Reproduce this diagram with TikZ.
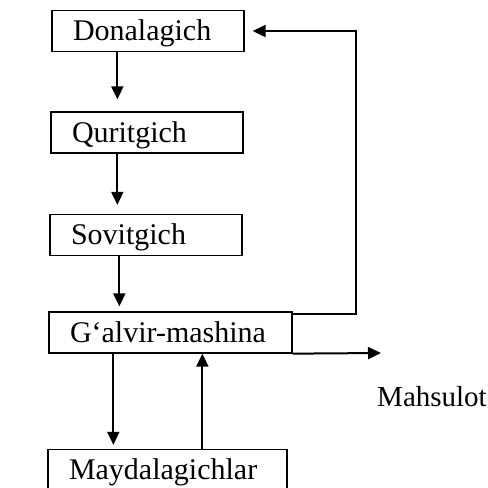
\documentclass[tikz,border=0pt]{standalone}
\usepackage{fontspec}
\setmainfont{Liberation Serif}
\usetikzlibrary{arrows.meta}
\tikzset{
  box/.style={draw, line width=1.3pt, minimum height=41pt, inner xsep=21pt, inner ysep=0pt,
    align=left, text height=19pt, text depth=0pt, font=\fontsize{30}{36}\selectfont},
  flow/.style={line width=2pt, -{Triangle[length=13pt,width=12pt]}}
}
\begin{document}
\begin{tikzpicture}[x=1pt,y=-1pt]
\useasboundingbox (0,0) rectangle (488,488);
\node[box, text width=150pt] (don) at (148,31) {Donalagich};
\node[box, text width=150pt] (qur) at (147,132.5) {Quritgich};
\node[box, text width=150pt] (sov) at (146,235) {Sovitgich};
\node[box, text width=201pt] (gal) at (170.5,332.5) {G‘alvir-mashina};
\node[box, text width=197pt] (may) at (167.5,470) {Maydalagichlar};
\node[font=\fontsize{29}{35}\selectfont, anchor=east, inner xsep=1pt] (mah) at (488,397) {Mahsulot};
\coordinate (back) at (356,31);
\coordinate (out) at (381,353);
\draw[flow, shorten >=12pt] ([xshift=66pt]don.south west) -- ([xshift=66pt]don.south west |- qur.north);
\draw[flow, shorten >=9pt] ([xshift=67pt]qur.south west) -- ([xshift=67pt]qur.south west |- sov.north);
\draw[flow, shorten >=5pt] ([xshift=70pt]sov.south west) -- ([xshift=70pt]sov.south west |- gal.north);
\draw[flow, shorten >=4pt] ([xshift=65pt]gal.south west) -- ([xshift=65pt]gal.south west |- may.north);
\draw[flow] ([xshift=155pt]may.north west) -- ([xshift=155pt]may.north west |- gal.south);
\draw[flow, shorten >=8pt] ([yshift=-3pt]gal.north east) -| (back) -- (don.east);
\draw[flow] (gal.south east) -- (out);
\end{tikzpicture}
\end{document}
